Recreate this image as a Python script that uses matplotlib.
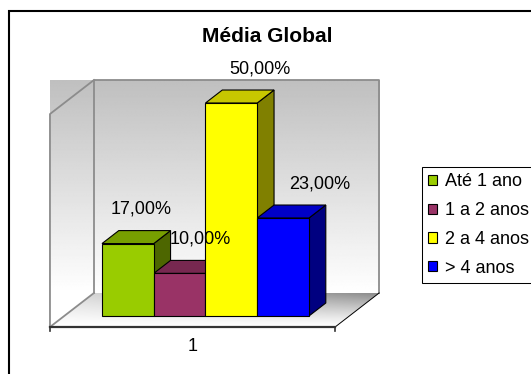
import numpy as np
import matplotlib.pyplot as plt
from matplotlib.patches import Polygon, Patch, Rectangle

plt.rcParams['font.family'] = ['Liberation Sans', 'DejaVu Sans']

# === Dados ===
categorias = ['Até 1 ano', '1 a 2 anos', '2 a 4 anos', '> 4 anos']
valores = [17.0, 10.0, 50.0, 23.0]
cores = ['#99CC00', '#993366', '#FFFF00', '#0000FF']
rotulo_eixo = '1'
titulo = 'Média Global'
vmax = 50

# === Geometria da "caixa" 3D (projeção oblíqua) ===
PX, PY = 0.85, 7.98       # deslocamento para a profundidade total do piso
d0, d1 = 0.324, 0.706     # frente e fundo das colunas
XL, XR = -0.73, 4.78      # extremos do piso


def proj(x, d, v):
    return (x + (d - d0) * PX, v + (d - d0) * PY)


def escurece(cor, f):
    r, g, b = plt.matplotlib.colors.to_rgb(cor)
    return (r * f, g * f, b * f)


W, H = 531, 374
fig = plt.figure(figsize=(W / 100, H / 100), dpi=100)
ax = fig.add_axes([0, 0, 1, 1])
ax.set_xlim(-1.971, 8.29)
ax.set_ylim(-13.62, 74.18)
ax.axis('off')

# fundo das paredes (degradê cinza -> branco)
xa = proj(XL, 0, 0)[0]
xb = proj(XR, 1, 0)[0]
ytop = proj(0, 1, vmax)[1]
ybot = proj(0, 0, 0)[1]
grad = np.clip(np.linspace(0.75, 1.04, 256), 0, 1)[:, None] * np.ones((1, 4))
ax.imshow(grad, cmap='gray', vmin=0, vmax=1, extent=[xa, xb, ybot, ytop],
          aspect='auto', origin='upper', zorder=0, interpolation='bilinear')

# piso com degradê próprio
piso = [proj(XL, 0, 0), proj(XR, 0, 0), proj(XR, 1, 0), proj(XL, 1, 0)]
poly_piso = Polygon(piso, closed=True, facecolor='none', edgecolor='none')
ax.add_patch(poly_piso)
rr, uu = np.meshgrid(np.linspace(0, 1, 64), np.linspace(0, 1, 128), indexing='ij')
piso_img = 1 - 0.45 * (1 - rr) ** 1.2 * (0.3 + 0.7 * uu)
im = ax.imshow(piso_img, cmap='gray', vmin=0, vmax=1,
               extent=[piso[0][0], piso[2][0], piso[0][1], piso[2][1]],
               aspect='auto', origin='upper', zorder=1, interpolation='bilinear')
im.set_clip_path(poly_piso)

# contornos das paredes
cinza = '#8c8c8c'
parede_fundo = [proj(XL, 1, 0), proj(XL, 1, vmax), proj(XR, 1, vmax), proj(XR, 1, 0)]
ax.plot(*zip(*parede_fundo), color=cinza, lw=1.3, zorder=2)
parede_lado = [proj(XL, 0, 0), proj(XL, 0, vmax), proj(XL, 1, vmax)]
ax.plot(*zip(*parede_lado), color=cinza, lw=1.3, zorder=2)
ax.plot(*zip(proj(XL, 0, 0), proj(XL, 1, 0)), color=cinza, lw=1.3, zorder=2)
ax.plot(*zip(proj(XR, 0, 0), proj(XR, 1, 0)), color='black', lw=0.7, zorder=2)

# borda frontal do piso com marcas nas pontas
fx0, fy = proj(XL, 0, 0)
fx1, _ = proj(XR, 0, 0)
ax.plot([fx0, fx1], [fy, fy], color='#333333', lw=1.6, zorder=2)
for fx in (fx0, fx1):
    ax.plot([fx, fx], [fy, fy - 1.0], color='#333333', lw=1.2, zorder=2)
ax.text((fx0 + fx1) / 2, fy - 4.5, rotulo_eixo, ha='center', va='center', fontsize=13)

# === Colunas ===
ox = (d1 - d0) * PX
oy = (d1 - d0) * PY
xs = np.arange(len(valores))
for i, (v, c) in enumerate(zip(valores, cores)):
    topo = [(i, v), (i + 1, v), (i + 1 + ox, v + oy), (i + ox, v + oy)]
    lado = [(i + 1, 0), (i + 1, v), (i + 1 + ox, v + oy), (i + 1 + ox, oy)]
    ax.add_patch(Polygon(lado, closed=True, facecolor=escurece(c, 0.5),
                         edgecolor='black', lw=0.8, zorder=3 + 0.1 * i))
    ax.add_patch(Polygon(topo, closed=True, facecolor=escurece(c, 0.78),
                         edgecolor='black', lw=0.8, zorder=3 + 0.1 * i))
ax.bar(xs, valores, width=1, align='edge', color=cores, edgecolor='black',
       linewidth=0.8, zorder=4)

# rótulos de dados
for i, v in enumerate(valores):
    txt = f'{v:.2f}'.replace('.', ',') + '%'
    ax.text(i + 0.5 + 0.25 + 0.15 * i, v + 8.0, txt, ha='center', va='center',
            fontsize=13, zorder=6)

# título
fig.text(267.5 / W, 1 - 37 / H, titulo, ha='center', va='center',
         fontsize=15, fontweight='bold')

# legenda
handles = [Patch(facecolor=c, edgecolor='black', linewidth=0.8) for c in cores]
leg = fig.legend(handles, categorias, loc='upper left',
                 bbox_to_anchor=(422 / W, 1 - 167 / H), fontsize=13,
                 frameon=True, fancybox=False, edgecolor='black', framealpha=1,
                 borderpad=0.35, handlelength=0.5, handleheight=0.5,
                 handletextpad=0.45, labelspacing=0.65, borderaxespad=0)
leg.get_frame().set_linewidth(0.75)

# moldura externa
fig.add_artist(Rectangle((9 / W, -0.1), 1.2, 1.1 - 11 / H, transform=fig.transFigure,
                         fill=False, edgecolor='black', lw=1.5))

fig.savefig('out.png', dpi=100)
